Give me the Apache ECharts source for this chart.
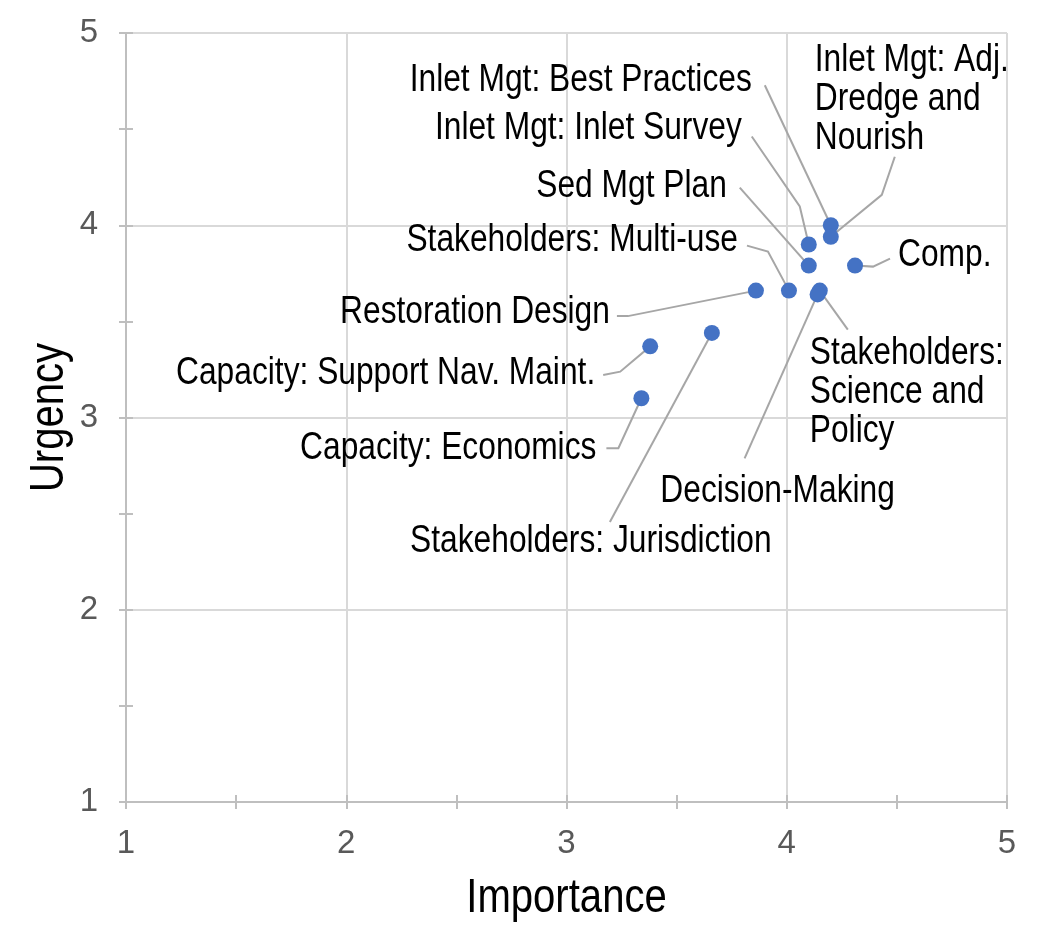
<!DOCTYPE html>
<html>
<head>
<meta charset="utf-8">
<script src="https://cdn.jsdelivr.net/npm/echarts@6/dist/echarts.min.js"></script>
<style>
html,body{margin:0;padding:0;background:#fff;}
#chart{width:1044px;height:938px;}
</style>
</head>
<body>
<div id="chart"></div>
<script>
// ---- data ----
const labels = [
  "Inlet Mgt: Best Practices",
  "Inlet Mgt: Adj.\nDredge and\nNourish",
  "Inlet Mgt: Inlet Survey",
  "Sed Mgt Plan",
  "Comp.",
  "Stakeholders: Multi-use",
  "Restoration Design",
  "Stakeholders:\nScience and\nPolicy",
  "Decision-Making",
  "Stakeholders: Jurisdiction",
  "Capacity: Support Nav. Maint.",
  "Capacity: Economics"
];
const importance = [4.20, 4.20, 4.10, 4.10, 4.31, 4.01, 3.86, 4.15, 4.14, 3.66, 3.38, 3.34];
const urgency    = [4.00, 3.94, 3.90, 3.79, 3.79, 3.66, 3.66, 3.66, 3.64, 3.44, 3.37, 3.10];
const axisTicks = [1, 2, 3, 4, 5];
const xTitle = "Importance";
const yTitle = "Urgency";

// ---- label placement (pixel offsets from each point) ----
const labelPlace = [
  {dx:-79, dy:-148.5, align:'right', leader:[[-66,-140]]},
  {dx:-16, dy:-140.5, align:'left',  leader:[[64,-80],[51,-42]]},
  {dx:-67, dy:-119.7, align:'right', leader:[[-57,-108],[-9,-38]]},
  {dx:-82, dy:-82.4,  align:'right', leader:[[-69,-78]]},
  {dx:43,  dy:-14,    align:'left',  leader:[[35,-7],[18,1]]},
  {dx:-51, dy:-54,    align:'right', leader:[[-42,-45],[-21,-39]]},
  {dx:-146,dy:18.6,   align:'right', leader:[[-139,25.5],[-128,25.5]]},
  {dx:-10, dy:98.6,   align:'left',  leader:[[28,39]]},
  {dx:-40, dy:193.7,  align:'center',leader:[[-73,164]]},
  {dx:-121,dy:205,    align:'center',leader:[[-102,189]]},
  {dx:-55, dy:23.4,   align:'right', leader:[[-47,28.6],[-30,25.3]]},
  {dx:-45, dy:46.5,   align:'right', leader:[[-35,50],[-23,50]]}
];
const TEXT_SHIFT = 3.5;

const FONT = "'Liberation Sans', Arial, sans-serif";
const NARROW = 0.835; // emulate a narrow typeface
const points = importance.map((x, i) => [x, urgency[i]]);

const chart = echarts.init(document.getElementById('chart'), null, {renderer:'canvas'});

const gridLine = '#D9D9D9';
const axisLineColor = '#BFBFBF';
function valueAxis(extra) {
  return Object.assign({type:'value', min:1, max:5, gridIndex:0}, extra);
}
const labelFmt = v => axisTicks.indexOf(v) >= 0 ? String(v) : '';

const option = {
  backgroundColor:'#fff',
  animation:false,
  grid:{left:126, top:33, right:37, bottom:136, containLabel:false, outerBoundsMode:'none'},
  graphic:[
    {type:'text', x:566.5, y:898.5, scaleX:NARROW,
     style:{text:xTitle, fontSize:48, fontFamily:FONT, fill:'#000', align:'center', verticalAlign:'middle'}},
    {type:'text', x:49.5, y:417.5, rotation:Math.PI/2, scaleX:NARROW,
     style:{text:yTitle, fontSize:48, fontFamily:FONT, fill:'#000', align:'center', verticalAlign:'middle'}}
  ],
  xAxis:[
    valueAxis({interval:1, position:'bottom',
      axisLine:{show:true, lineStyle:{color:axisLineColor, width:2}},
      axisTick:{show:false},
      axisLabel:{show:true, fontSize:33, fontFamily:FONT, color:'#595959', margin:25, formatter:labelFmt},
      splitLine:{show:true, lineStyle:{color:gridLine, width:2}}
    }),
    valueAxis({interval:0.5, position:'bottom',
      axisLine:{show:false}, axisLabel:{show:false}, splitLine:{show:false},
      axisTick:{show:true, inside:false, length:7, lineStyle:{color:axisLineColor, width:2}}
    }),
    valueAxis({interval:0.5, position:'bottom',
      axisLine:{show:false}, axisLabel:{show:false}, splitLine:{show:false},
      axisTick:{show:true, inside:true, length:7, lineStyle:{color:axisLineColor, width:2}}
    })
  ],
  yAxis:[
    valueAxis({interval:1, position:'left',
      axisLine:{show:true, lineStyle:{color:axisLineColor, width:2}},
      axisTick:{show:false},
      axisLabel:{show:true, fontSize:33, fontFamily:FONT, color:'#595959', margin:28, formatter:labelFmt},
      splitLine:{show:true, lineStyle:{color:gridLine, width:2}}
    }),
    valueAxis({interval:0.5, position:'left',
      axisLine:{show:false}, axisLabel:{show:false}, splitLine:{show:false},
      axisTick:{show:true, inside:false, length:7, lineStyle:{color:axisLineColor, width:2}}
    }),
    valueAxis({interval:0.5, position:'left',
      axisLine:{show:false}, axisLabel:{show:false}, splitLine:{show:false},
      axisTick:{show:true, inside:true, length:7, lineStyle:{color:axisLineColor, width:2}}
    })
  ],
  series:[
    {
      type:'custom', xAxisIndex:0, yAxisIndex:0, z:3,
      data:points,
      renderItem:function(params, api){
        const i = params.dataIndex;
        const p = api.coord([api.value(0), api.value(1)]);
        const L = labelPlace[i];
        const pts = L.leader.map(o => [p[0]+o[0], p[1]+o[1]]);
        pts.push([p[0], p[1]]);
        return {type:'group', children:[
          {type:'polyline', shape:{points:pts}, style:{stroke:'#A6A6A6', lineWidth:2, fill:null}},
          {type:'text', x:p[0]+L.dx, y:p[1]+L.dy+TEXT_SHIFT, scaleX:NARROW,
            style:{text:labels[i], fontSize:38, fontFamily:FONT, fill:'#000',
                   align:L.align, verticalAlign:'middle', lineHeight:39}}
        ]};
      }
    },
    {
      type:'scatter', xAxisIndex:0, yAxisIndex:0, z:5,
      data:points, symbol:'circle', symbolSize:16,
      itemStyle:{color:'#4472C4', opacity:1}
    }
  ]
};
chart.setOption(option);
</script>
</body>
</html>
